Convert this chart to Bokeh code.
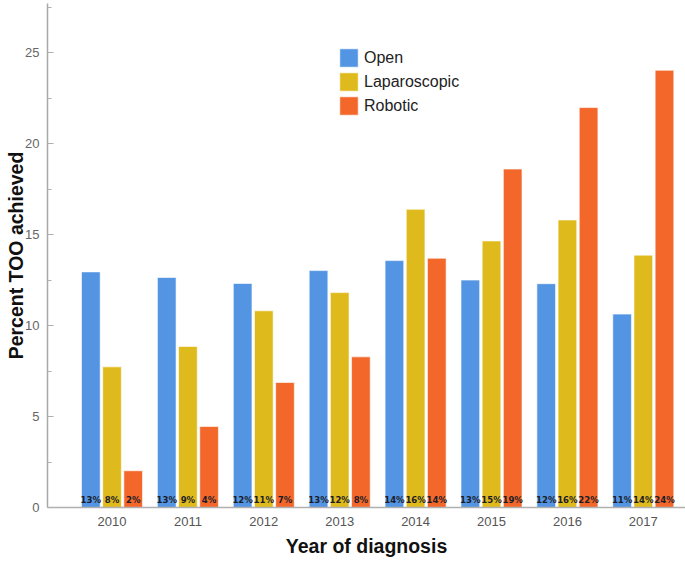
from bokeh.plotting import figure
from bokeh.models import Range1d, SingleIntervalTicker, FixedTicker, Legend, LegendItem, ColumnDataSource
from bokeh.core.properties import value
from bokeh.embed import file_html
from bokeh.resources import INLINE

years = [2010, 2011, 2012, 2013, 2014, 2015, 2016, 2017]
open_vals = [12.95, 12.64, 12.31, 13.02, 13.57, 12.50, 12.30, 10.63]
lap_vals = [7.73, 8.85, 10.81, 11.81, 16.39, 14.65, 15.80, 13.87]
rob_vals = [2.02, 4.45, 6.87, 8.28, 13.70, 18.60, 21.98, 24.03]
open_labels = ["13%", "13%", "12%", "13%", "14%", "13%", "12%", "11%"]
lap_labels = ["8%", "9%", "11%", "12%", "16%", "15%", "16%", "14%"]
rob_labels = ["2%", "4%", "7%", "8%", "14%", "19%", "22%", "24%"]
series_names = ["Open", "Laparoscopic", "Robotic"]
colors = ["#5395E3", "#DFBA1C", "#F3682A"]

FONT = "Liberation Sans"

p = figure(width=685, height=561, output_backend="svg", toolbar_location=None,
           x_range=Range1d(2009.15, 2017.556), y_range=Range1d(0, 27.7),
           min_border_left=47, min_border_right=0, min_border_top=3, min_border_bottom=54)
p.outline_line_color = None
p.xgrid.grid_line_color = None
p.ygrid.grid_line_color = None

offsets = [-0.279, 0.0, 0.279]
bw = 0.246
all_vals = [open_vals, lap_vals, rob_vals]
all_labels = [open_labels, lap_labels, rob_labels]
items = []
for vals, labs, off, col, name in zip(all_vals, all_labels, offsets, colors, series_names):
    src = ColumnDataSource(dict(x=[y + off for y in years], top=vals, lab=labs))
    r = p.vbar(x="x", top="top", width=bw, source=src, fill_color=col,
               line_color="white", line_alpha=0.6, line_width=1)
    p.text(x="x", y=0, text="lab", source=src, text_align="center", text_baseline="bottom",
           y_offset=-3, text_font=value("DejaVu Sans Condensed"), text_font_size="9.5px",
           text_font_style="bold", text_color="#1c1c28")
    items.append(LegendItem(label=name, renderers=[r]))

legend = Legend(items=items, location=(290, 390), orientation="vertical",
                glyph_width=23, glyph_height=23, label_height=23, spacing=1,
                padding=0, margin=0, label_standoff=4,
                label_text_font=FONT, label_text_font_size="16px", label_text_color="#222222",
                border_line_color=None, background_fill_alpha=0)
p.add_layout(legend, "center")

# y axis
p.yaxis.ticker = SingleIntervalTicker(interval=5, num_minor_ticks=2)
p.yaxis.axis_line_color = "#a8a8a8"
p.yaxis.axis_line_width = 1.5
p.yaxis.major_tick_in = 6
p.yaxis.major_tick_out = 0
p.yaxis.minor_tick_in = 4
p.yaxis.minor_tick_out = 0
p.yaxis.major_tick_line_color = "#b0b0b0"
p.yaxis.minor_tick_line_color = "#b0b0b0"
p.yaxis.major_label_text_font = FONT
p.yaxis.major_label_text_font_size = "13px"
p.yaxis.major_label_text_color = "#666666"
p.yaxis.major_label_standoff = 8
p.yaxis.axis_label = "Percent TOO achieved"
p.yaxis.axis_label_text_font = FONT
p.yaxis.axis_label_text_font_size = "19.5px"
p.yaxis.axis_label_text_font_style = "bold"
p.yaxis.axis_label_text_color = "#111111"
p.yaxis.axis_label_standoff = -5

# x axis
p.xaxis.ticker = FixedTicker(ticks=years)
p.xaxis.axis_line_color = "#b0b0b0"
p.xaxis.axis_line_width = 1.5
p.xaxis.major_tick_line_color = None
p.xaxis.minor_tick_line_color = None
p.xaxis.major_label_text_font = FONT
p.xaxis.major_label_text_font_size = "13px"
p.xaxis.major_label_text_color = "#555555"
p.xaxis.major_label_standoff = 3
p.xaxis.axis_label = "Year of diagnosis"
p.xaxis.axis_label_text_font = FONT
p.xaxis.axis_label_text_font_size = "19.5px"
p.xaxis.axis_label_text_font_style = "bold"
p.xaxis.axis_label_text_color = "#111111"
p.xaxis.axis_label_standoff = 6

open("out.html", "w").write(file_html(p, INLINE))
